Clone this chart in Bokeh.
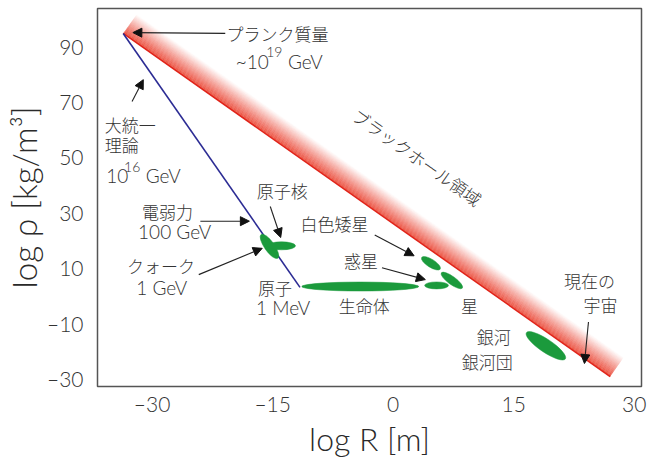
import math
from bokeh.plotting import figure
from bokeh.models import ColumnDataSource, Arrow, NormalHead, FixedTicker
from bokeh.core.properties import value
from bokeh.embed import file_html
from bokeh.resources import INLINE

# ---------------- data ----------------
x_ticks = [-30, -15, 0, 15, 30]
y_ticks = [90, 70, 50, 30, 10, -10, -30]
x_title = "log R [m]"
y_title = "log ρ [kg/m³]"

# black-hole boundary: Planck point -> present universe
bh_logR = [-33.6, 27.0]
bh_logrho = [94.6, -29.3]
# GUT / unification line: Planck point -> atom
gut_logR = [-33.6, -11.6]
gut_logrho = [94.6, 2.9]

# objects (ellipse centres, log R / log rho)
obj_names = ["quark", "nucleus", "life", "planet", "star", "white dwarf", "galaxy"]
obj_logR = [-15.4, -13.9, -4.1, 5.4, 7.3, 4.7, 19.0]
obj_logrho = [17.7, 17.9, 3.2, 3.6, 5.4, 11.6, -18.2]
# ellipse style (screen px / degrees)
obj_len = [29, 28, 117, 24, 26, 22, 47]
obj_thick = [10, 8, 9, 7, 8, 8, 13]
obj_ang = [-55, 0, 0, 0, -36, -32, -34]

# annotations
jp_text = ["プランク質量", "原子核", "電弱力", "クォーク", "原子", "白色矮星",
           "惑星", "生命体", "星", "銀河", "銀河団"]
jp_x = [-14.4, -13.8, -28.1, -28.9, -14.7, -7.3, -4.0, -3.6, 9.5, 12.5, 11.7]
jp_y = [94.6, 37.9, 30.4, 10.7, 2.9, 26.1, 12.5, -3.6, -3.6, -15.0, -23.9]

jp_left_text = ["大統一", "理論"]
jp_left_x = [-35.9, -35.9]
jp_left_y = [61.8, 54.6]

jp_right_text = ["現在の", "宇宙"]
jp_right_x = [27.6, 27.9]
jp_right_y = [5.4, -3.2]

en_text = ["100 GeV", "1 GeV", "1 MeV"]
en_x = [-27.2, -28.8, -13.7]
en_y = [23.2, 2.9, -4.3]

# energies written with a raised exponent: base, exponent, unit
en_base_text = ["~10", "10"]
en_base_x = [-19.6, -35.7]
en_base_y = [84.3, 43.2]
en_exp_text = ["19", "16"]
en_exp_x = [-15.8, -33.5]
en_exp_y = [87.9, 46.4]
en_unit_text = ["GeV", "GeV"]
en_unit_x = [-13.1, -30.8]
en_unit_y = [84.3, 43.2]

bh_label = ["ブラックホール領域"]
bh_label_x = [3.0]
bh_label_y = [50.0]

arr_x0 = [-20.9, -32.5, -24.0, -24.2, -15.3, -2.3, -1.4, 24.3]
arr_y0 = [94.6, 70.0, 26.8, 7.5, 32.1, 21.8, 10.0, -9.6]
arr_x1 = [-32.4, -31.1, -17.9, -16.3, -14.0, 2.6, 4.0, 23.8]
arr_y1 = [94.9, 77.9, 26.8, 17.0, 20.9, 14.3, 5.7, -24.6]

# ---------------- figure ----------------
W, H = 647, 460
ML, MR, MT, MB = 93, 6, 8, 70
XR = (-36.8, 30.9)
YR = (-32.9, 103.6)

p = figure(width=W, height=H, x_range=XR, y_range=YR,
           output_backend="svg", toolbar_location=None,
           min_border_left=ML, min_border_right=MR,
           min_border_top=MT, min_border_bottom=MB)
p.xgrid.visible = False
p.ygrid.visible = False
p.background_fill_color = "white"
p.border_fill_color = "white"
p.outline_line_color = "#555555"
p.outline_line_width = 1.5

latin = "'Lato Light', Lato"
for ax in (p.xaxis[0], p.yaxis[0]):
    ax.axis_line_color = None
    ax.major_tick_line_color = None
    ax.minor_tick_line_color = None
    ax.major_tick_in = 0
    ax.major_tick_out = 0
    ax.minor_tick_in = 0
    ax.minor_tick_out = 0
    ax.major_label_text_font = latin
    ax.major_label_text_font_size = "21px"
    ax.major_label_text_color = "#333333"
    ax.axis_label_text_font = latin
    ax.axis_label_text_font_style = "normal"
    ax.axis_label_text_color = "#2a2a2a"

p.xaxis[0].axis_label_text_font_size = "32px"
p.yaxis[0].axis_label_text_font_size = "33px"
p.xaxis[0].ticker = FixedTicker(ticks=x_ticks)
p.yaxis[0].ticker = FixedTicker(ticks=y_ticks)
p.xaxis[0].major_label_overrides = {float(t): str(t).replace("-", "–") for t in x_ticks}
p.yaxis[0].major_label_overrides = {float(t): str(t).replace("-", "–") for t in y_ticks}
p.xaxis[0].axis_label = x_title
p.yaxis[0].axis_label = y_title
p.xaxis[0].major_label_standoff = 4
p.xaxis[0].axis_label_standoff = 0
p.yaxis[0].major_label_standoff = 14
p.yaxis[0].axis_label_standoff = 0

# ---------------- black-hole band (gradient) ----------------
fw = W - ML - MR
fh = H - MT - MB
sx = fw / (XR[1] - XR[0])
sy = fh / (YR[1] - YR[0])
dxs = (bh_logR[1] - bh_logR[0]) * sx
dys = (bh_logrho[1] - bh_logrho[0]) * sy
L = math.hypot(dxs, dys)
ux, uy = dxs / L, dys / L
nx, ny = -uy, ux  # normal pointing up-right (screen, y up)
if nx < 0:
    nx, ny = -nx, -ny
px_to_dx = nx / sx
px_to_dy = ny / sy

N = 32
band_w = 24.0
xs, ys, alphas = [], [], []
for i in range(N):
    o0 = band_w * i / N
    o1 = band_w * (i + 1) / N
    xs.append([bh_logR[0] + o0 * px_to_dx, bh_logR[1] + o0 * px_to_dx,
               bh_logR[1] + o1 * px_to_dx, bh_logR[0] + o1 * px_to_dx])
    ys.append([bh_logrho[0] + o0 * px_to_dy, bh_logrho[1] + o0 * px_to_dy,
               bh_logrho[1] + o1 * px_to_dy, bh_logrho[0] + o1 * px_to_dy])
    t = (i + 0.5) / N
    alphas.append(max(0.0, (1 - t)) ** 1.15)
band_src = ColumnDataSource(dict(xs=xs, ys=ys, a=alphas))
p.patches("xs", "ys", source=band_src, fill_color="#e8301c", fill_alpha="a",
          line_color=None)
p.line(bh_logR, bh_logrho, line_color="#e0241a", line_width=1.5)

# GUT line
p.line(gut_logR, gut_logrho, line_color="#2c2c94", line_width=1.6)

# objects
obj_src = ColumnDataSource(dict(x=obj_logR, y=obj_logrho, w=obj_len, h=obj_thick,
                                a=[math.radians(a) for a in obj_ang]))
p.ellipse(x="x", y="y", width="w", height="h", angle="a", source=obj_src,
          width_units="screen", height_units="screen",
          fill_color="#1b9a3c", line_color="#1b9a3c", line_width=0.5)

# arrows
arr_src = ColumnDataSource(dict(x0=arr_x0, y0=arr_y0, x1=arr_x1, y1=arr_y1))
p.add_layout(Arrow(x_start="x0", y_start="y0", x_end="x1", y_end="y1",
                   source=arr_src, line_color="#222222", line_width=1.1,
                   end=NormalHead(size=9, fill_color="#111111",
                                  line_color="#111111", line_width=1)))

jp_font = value("'Noto Sans CJK JP Light', 'Noto Sans CJK JP'")
lat_font = value(latin)
tc = "#333333"
p.text(jp_x, jp_y, text=jp_text, text_font=jp_font, text_font_size="17px",
       text_align="center", text_baseline="middle", text_color=tc)
p.text(jp_left_x, jp_left_y, text=jp_left_text, text_font=jp_font,
       text_font_size="17px", text_align="left", text_baseline="middle",
       text_color=tc)
p.text(jp_right_x, jp_right_y, text=jp_right_text, text_font=jp_font,
       text_font_size="17px", text_align="right", text_baseline="middle",
       text_color=tc)
p.text(en_x, en_y, text=en_text, text_font=lat_font, text_font_size="19px",
       text_align="center", text_baseline="middle", text_color=tc)
p.text(en_base_x, en_base_y, text=en_base_text, text_font=lat_font,
       text_font_size="19px", text_align="left", text_baseline="middle",
       text_color=tc)
p.text(en_exp_x, en_exp_y, text=en_exp_text, text_font=lat_font,
       text_font_size="14px", text_align="left", text_baseline="middle",
       text_color=tc)
p.text(en_unit_x, en_unit_y, text=en_unit_text, text_font=lat_font,
       text_font_size="19px", text_align="left", text_baseline="middle",
       text_color=tc)
p.text(bh_label_x, bh_label_y, text=bh_label, text_font=jp_font,
       text_font_size="17px", text_align="center", text_baseline="middle",
       angle=math.atan2(dys, dxs), text_color=tc)

html = file_html(p, INLINE)
open("out.html", "w").write(html)
